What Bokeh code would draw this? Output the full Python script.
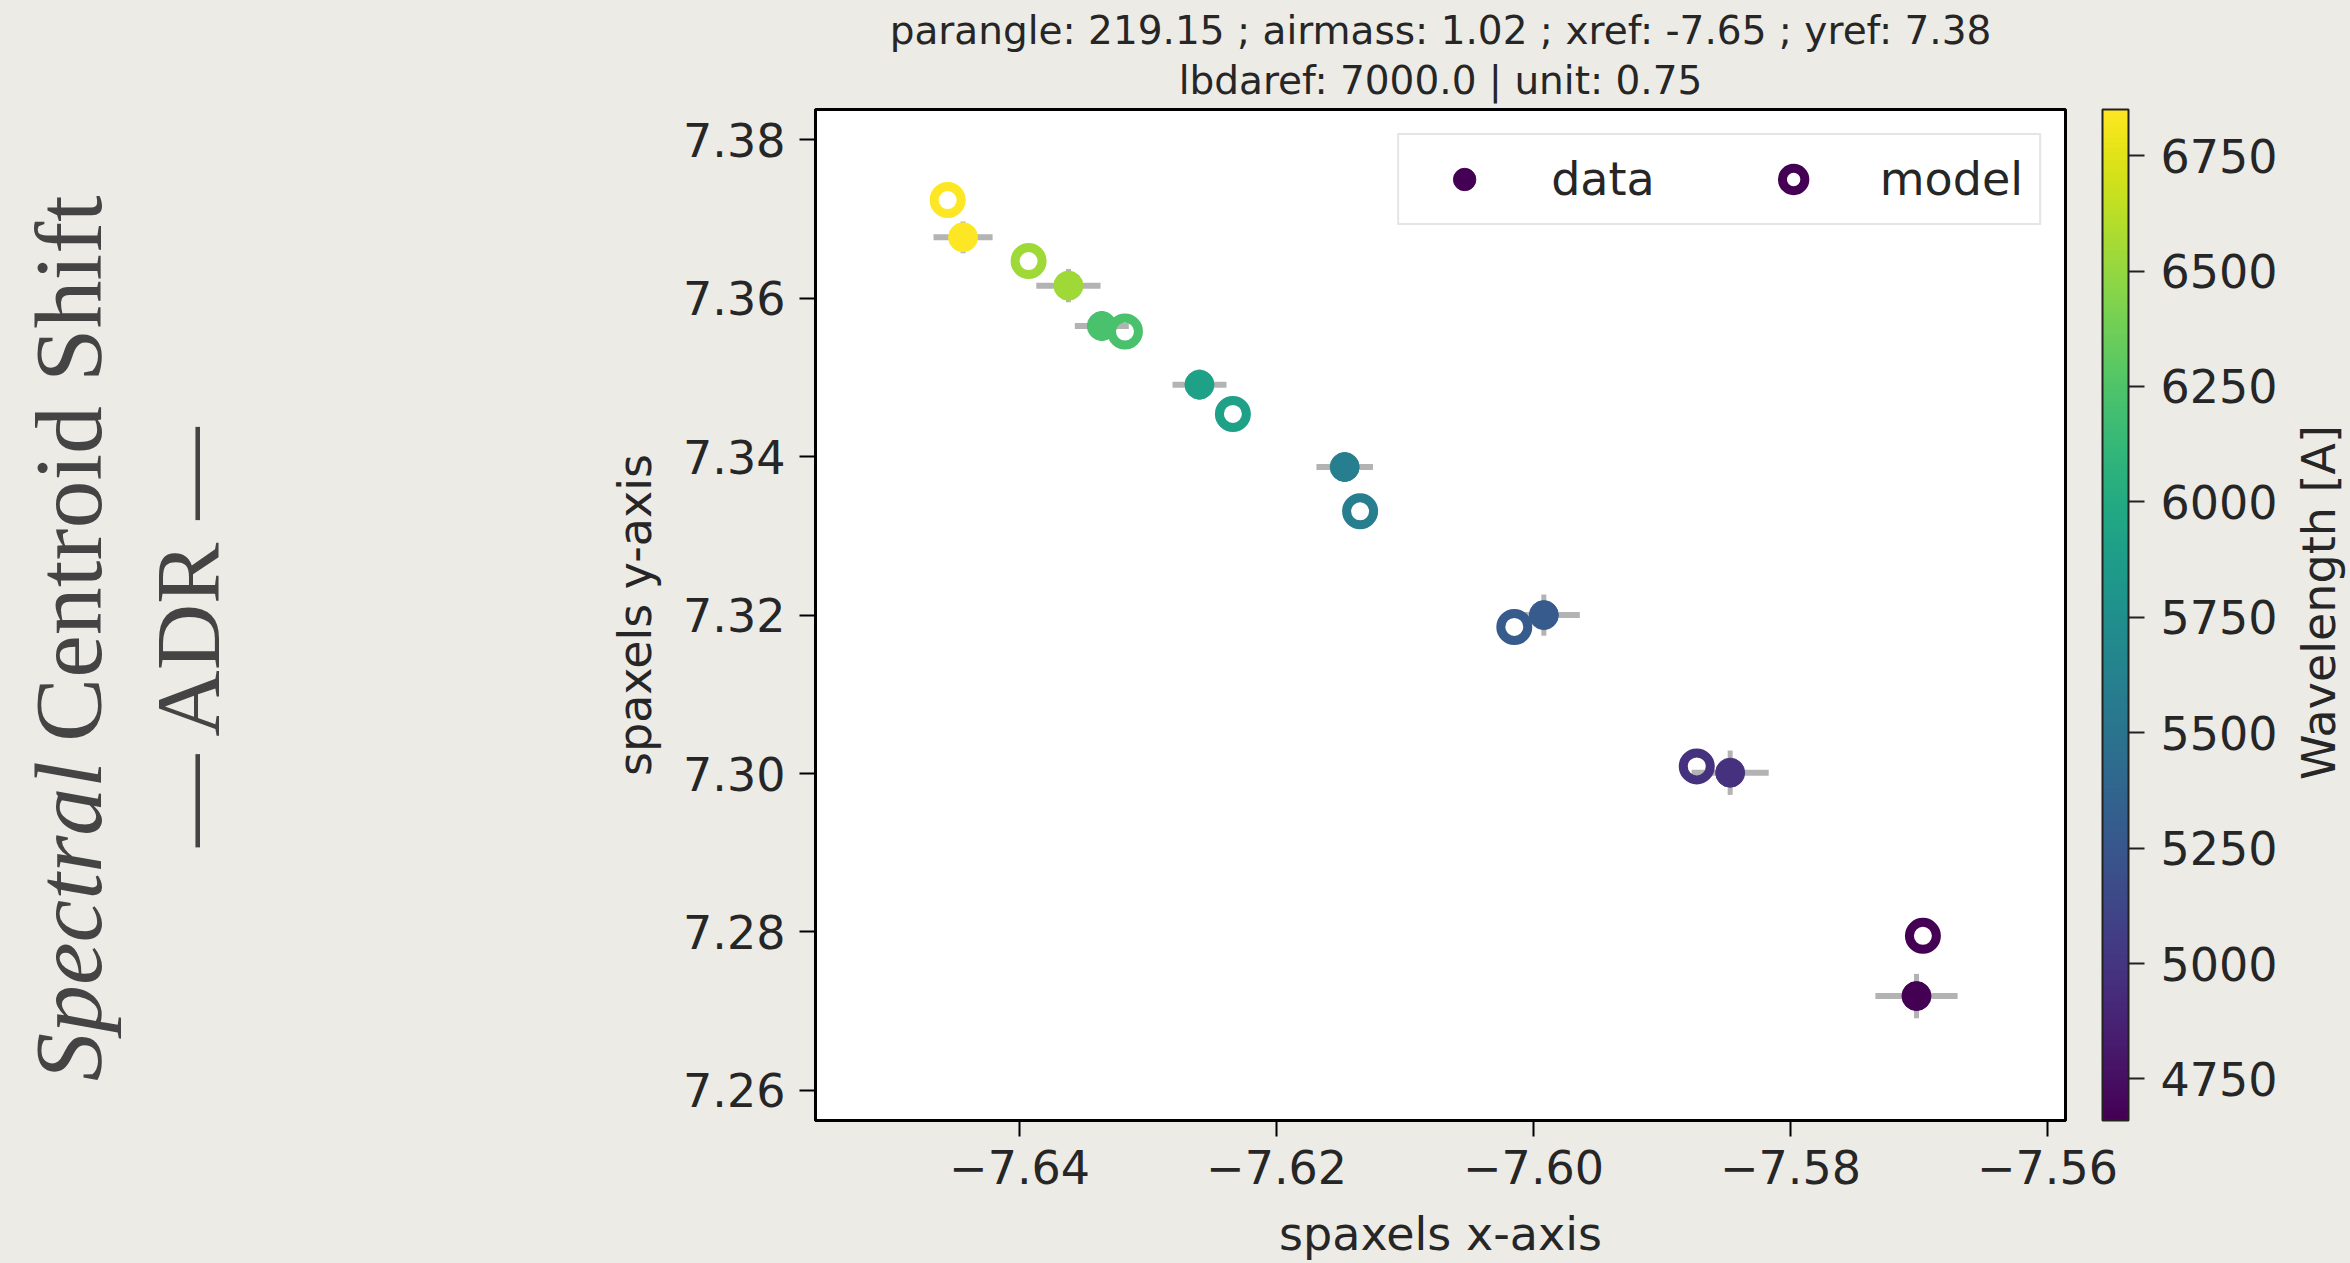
import numpy as np
from bokeh.plotting import figure
from bokeh.layouts import row
from bokeh.models import (ColumnDataSource, Range1d, LinearColorMapper, ColorBar, FixedTicker,
                          CustomJSTickFormatter, Legend, LegendItem, Title)
from bokeh.palettes import Viridis256
from bokeh.core.properties import value
from bokeh.embed import file_html
from bokeh.resources import INLINE

# ---------------- data ----------------
lbda = [4660, 4975, 5285, 5600, 5910, 6225, 6535, 6850]
data_x = [-7.5702, -7.5847, -7.5992, -7.6147, -7.6260, -7.6336, -7.6362, -7.6444]
data_y = [7.2719, 7.3001, 7.3200, 7.3387, 7.3491, 7.3565, 7.3616, 7.3677]
data_xerr = [0.0032, 0.0030, 0.0028, 0.0022, 0.0021, 0.0021, 0.0025, 0.0023]
data_yerr = [0.0028, 0.0028, 0.0026, 0.0019, 0.0019, 0.0019, 0.0021, 0.0020]
model_x = [-7.5697, -7.5873, -7.6015, -7.6135, -7.6234, -7.6318, -7.6393, -7.6456]
model_y = [7.2795, 7.3009, 7.3185, 7.3331, 7.3454, 7.3558, 7.3647, 7.3724]

x_ticks = [-7.64, -7.62, -7.60, -7.58, -7.56]
y_ticks = [7.26, 7.28, 7.30, 7.32, 7.34, 7.36, 7.38]
cbar_ticks = [4750, 5000, 5250, 5500, 5750, 6000, 6250, 6500, 6750]

title_line1 = "parangle: 219.15 ; airmass: 1.02 ; xref: -7.65 ; yref: 7.38"
title_line2 = "lbdaref: 7000.0 | unit: 0.75"
x_label = "spaxels x-axis"
y_label = "spaxels y-axis"
cbar_label = "Wavelength [A]"
slide_word1 = "Spectral"
slide_word2 = "Centroid Shift"
slide_sub = "\u2014 ADR \u2014"

# ---------------- layout constants ----------------
W, H = 2350, 1263
LW = 300           # left text panel width
RW = 60            # right text panel width
MW = W - LW - RW   # main figure width
FL, FR, FT, FB = 815, 2065, 109, 1120   # frame edges in page pixels
XL, XR = -7.655883, -7.558603
YB, YT = 7.256188, 7.383838

BG = "#ecebe6"
TXT = "#262626"
FONT = "DejaVu Sans"
SERIF = "Liberation Serif"
SLIDE_TXT = "#444444"


def side_fig(x0, width):
    f = figure(width=width, height=H, output_backend="svg", toolbar_location=None,
               x_range=Range1d(x0, x0 + width), y_range=Range1d(0, H),
               x_axis_type=None, y_axis_type=None, min_border=0, title=None,
               outline_line_color=None, background_fill_color=BG, border_fill_color=BG)
    f.grid.visible = False
    return f


# ---------------- left slide text ----------------
lf = side_fig(0, LW)
lf.text(x=[68], y=[H - 814], text=[slide_word1], angle=np.pi / 2, text_align="right",
        text_baseline="middle", text_font=value(SERIF), text_font_style="italic",
        text_font_size="96px", text_color=SLIDE_TXT)
lf.text(x=[68], y=[H - 790], text=[slide_word2], angle=np.pi / 2, text_align="left",
        text_baseline="middle", text_font=value(SERIF),
        text_font_size="96px", text_color=SLIDE_TXT)
lf.text(x=[187], y=[H - 656], text=[slide_sub], angle=np.pi / 2, text_align="center",
        text_baseline="middle", text_font=value(SERIF),
        text_font_size="92px", text_color=SLIDE_TXT)

# ---------------- main plot ----------------
p = figure(width=MW, height=H, output_backend="svg", toolbar_location=None,
           x_range=Range1d(XL, XR), y_range=Range1d(YB, YT),
           min_border_left=FL - LW, min_border_right=(W - RW) - FR,
           min_border_top=FT, min_border_bottom=H - FB,
           background_fill_color="white", border_fill_color=BG,
           outline_line_color="black", outline_line_width=3,
           title=title_line1)
p.grid.visible = False

p.title.align = "center"
p.title.text_font = FONT
p.title.text_font_size = "39px"
p.title.text_font_style = "normal"
p.title.text_color = TXT
p.title.standoff = -9
t2 = Title(text=title_line2, align="center", text_font=FONT, text_font_size="39px",
           text_font_style="normal", text_color=TXT, standoff=14)
p.add_layout(t2, "above")

for ax in (p.xaxis[0], p.yaxis[0]):
    ax.axis_line_color = "black"
    ax.axis_line_width = 3
    ax.major_tick_in = 0
    ax.major_tick_out = 16
    ax.major_tick_line_width = 2
    ax.major_tick_line_color = "black"
    ax.minor_tick_line_color = None
    ax.major_label_text_font = FONT
    ax.major_label_text_font_size = "46px"
    ax.major_label_text_color = TXT
    ax.axis_label_text_font = FONT
    ax.axis_label_text_font_size = "46px"
    ax.axis_label_text_font_style = "normal"
    ax.axis_label_text_color = TXT

p.xaxis.ticker = FixedTicker(ticks=x_ticks)
p.yaxis.ticker = FixedTicker(ticks=y_ticks)
p.xaxis.formatter = CustomJSTickFormatter(code="return tick.toFixed(2).replace('-', '\u2212');")
p.yaxis.formatter = CustomJSTickFormatter(code="return tick.toFixed(2);")
p.xaxis.major_label_standoff = 13
p.yaxis.major_label_standoff = 14
p.xaxis.axis_label = x_label
p.yaxis.axis_label = y_label
p.xaxis.axis_label_standoff = 20
p.yaxis.axis_label_standoff = 18

mapper = LinearColorMapper(palette=Viridis256, low=min(lbda), high=max(lbda))
cfield = {"field": "lbda", "transform": mapper}

dsrc = ColumnDataSource(dict(
    x=data_x, y=data_y, lbda=lbda,
    xlo=[a - e for a, e in zip(data_x, data_xerr)],
    xhi=[a + e for a, e in zip(data_x, data_xerr)],
    ylo=[a - e for a, e in zip(data_y, data_yerr)],
    yhi=[a + e for a, e in zip(data_y, data_yerr)],
))
msrc = ColumnDataSource(dict(x=model_x, y=model_y, lbda=lbda))

p.segment(x0="xlo", y0="y", x1="xhi", y1="y", source=dsrc, line_color="#b3b3b3", line_width=6)
p.segment(x0="x", y0="ylo", x1="x", y1="yhi", source=dsrc, line_color="#b3b3b3", line_width=5)
r_data = p.scatter("x", "y", source=dsrc, size=29, fill_color=cfield, line_color=cfield, line_width=1)
r_model = p.scatter("x", "y", source=msrc, size=27, fill_color=None, line_color=cfield, line_width=9)

legend = Legend(items=[LegendItem(label="data", renderers=[r_data], index=0),
                       LegendItem(label="model", renderers=[r_model], index=0)],
                location="top_right", orientation="horizontal", margin=24, padding=16,
                spacing=89, glyph_width=98, glyph_height=56, label_standoff=38,
                label_text_font=FONT, label_text_font_size="46px", label_text_color=TXT,
                border_line_color="#cccccc", border_line_width=2,
                background_fill_color="white", background_fill_alpha=0.9)
p.add_layout(legend)

cb = ColorBar(color_mapper=mapper, ticker=FixedTicker(ticks=cbar_ticks),
              width=26, height=FB - FT, location=(2102 - FL, 0), padding=0, margin=0,
              background_fill_alpha=0, border_line_color=None,
              bar_line_color="#222222", bar_line_width=2,
              major_tick_line_color="#222222", major_tick_line_width=2,
              major_tick_in=0, major_tick_out=16, minor_tick_line_color=None,
              label_standoff=16, major_label_text_font=FONT,
              major_label_text_font_size="46px", major_label_text_color=TXT)
p.add_layout(cb)

# ---------------- right colour-bar label ----------------
rf = side_fig(W - RW, RW)
rf.text(x=[2318], y=[H - 616], text=[cbar_label], angle=np.pi / 2, text_align="center",
        text_baseline="middle", text_font=value(FONT), text_font_size="46px", text_color=TXT)

layout = row(lf, p, rf, spacing=0)
html = file_html(layout, INLINE)
html = html.replace("<head>", "<head><style>html,body{background:%s;margin:0;}</style>" % BG, 1)
open("out.html", "w").write(html)
